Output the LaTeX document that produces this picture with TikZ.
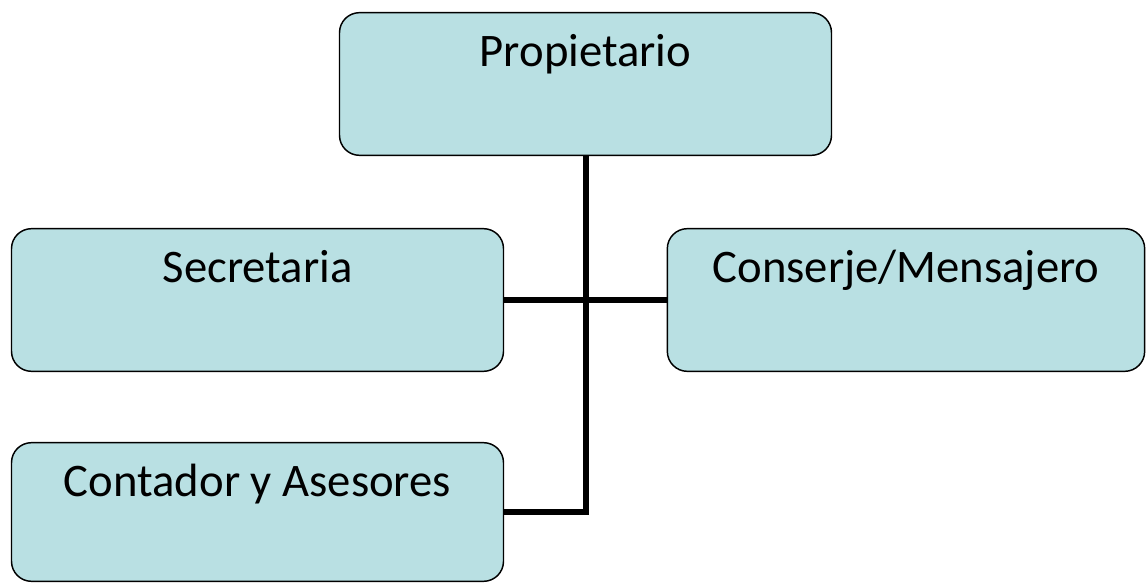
\documentclass[tikz,border=0pt]{standalone}
\usepackage{fontspec}
\setmainfont{Carlito}
\usetikzlibrary{positioning}
\definecolor{boxfill}{RGB}{185,224,227}

\begin{document}
\begin{tikzpicture}[x=0.75pt, y=0.75pt,
    role/.style={draw, line width=1.1pt, fill=boxfill, rounded corners=15pt,
      inner sep=0pt, minimum width=369pt, text height=40.5pt, text depth=66.5pt,
      font=\fontsize{35}{42}\selectfont},
    link/.style={line width=4.5pt}]
  \useasboundingbox (0,0) rectangle (1146,582);
  \node[role] (prop) at (585.5,498) {Propietario};
  \node[role] (sec) at (257.5,282) {Secretaria};
  \node[role, minimum width=358pt] (cons) at (906,282) {Conserje/Mensajero};
  \node[role, text depth=63.5pt] (cont) at (257.5,70) {Contador y Asesores};
  \draw[link] (sec.east) -- (cons.west);
  \draw[link] (prop.south) -- (prop.south |- cont.east) -- (cont.east);
\end{tikzpicture}
\end{document}
